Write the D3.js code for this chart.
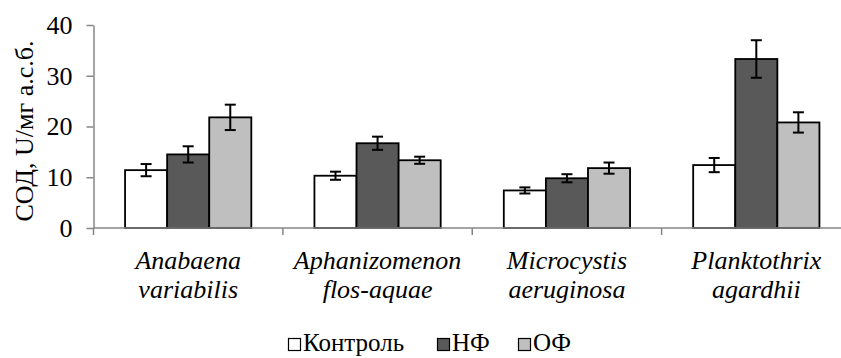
<!DOCTYPE html>
<html>
<head>
<meta charset="utf-8">
<script src="https://cdn.jsdelivr.net/npm/d3@7"></script>
<style>
  html, body { margin: 0; padding: 0; background: #fff; }
  svg { display: block; }
</style>
</head>
<body>
<svg id="chart" width="841" height="358"></svg>
<script>
// Species (two-line italic labels)
const categories = ["Anabaena variabilis", "Aphanizomenon flos-aquae", "Microcystis aeruginosa", "Planktothrix agardhii"];
const categoryLines = [["Anabaena", "variabilis"], ["Aphanizomenon", "flos-aquae"], ["Microcystis", "aeruginosa"], ["Planktothrix", "agardhii"]];
const seriesNames = ["Контроль", "НФ", "ОФ"];
const seriesColors = ["#ffffff", "#595959", "#bfbfbf"];
// SOD activity, U/mg dry weight
const control = [11.4, 10.3, 7.4, 12.4];
const nf = [14.5, 16.7, 9.8, 33.3];
const of = [21.8, 13.35, 11.8, 20.8];
// error bar half-widths
const controlErr = [1.2, 0.8, 0.6, 1.4];
const nfErr = [1.6, 1.3, 0.8, 3.7];
const ofErr = [2.5, 0.7, 1.1, 2.0];
const yTicks = [0, 10, 20, 30, 40];

const values = [control, nf, of];
const errors = [controlErr, nfErr, ofErr];

const FONT = "'Liberation Serif', 'Times New Roman', Times, serif";

const svg = d3.select("#chart");
const plotLeft = 93.5, plotRight = 851, plotTop = 25, plotBottom = 228;

const x = d3.scaleBand().domain(categories).range([plotLeft, plotRight]).paddingInner(0).paddingOuter(0);
const inner = d3.scaleBand().domain(seriesNames).range([0, x.bandwidth()]).paddingInner(0).paddingOuter(0.75);
const y = d3.scaleLinear().domain([0, 40]).range([plotBottom, plotTop]);

const axisColor = "#868686";

// y axis
const yAxis = svg.append("g")
  .attr("transform", `translate(${plotLeft},0)`)
  .call(d3.axisLeft(y).tickValues(yTicks).tickSize(7).tickPadding(14).tickSizeOuter(0));
yAxis.select(".domain").attr("stroke", axisColor).attr("stroke-width", 1.5);
yAxis.selectAll(".tick line").attr("stroke", axisColor).attr("stroke-width", 1.5);
yAxis.selectAll(".tick text")
  .style("font-family", FONT)
  .style("font-size", "26px")
  .attr("fill", "#000");

// bars
const groups = svg.append("g").selectAll("g")
  .data(categories)
  .join("g")
  .attr("transform", d => `translate(${x(d)},0)`);

seriesNames.forEach((s, si) => {
  groups.append("rect")
    .attr("x", inner(s))
    .attr("width", inner.bandwidth())
    .attr("y", (d, i) => y(values[si][i]))
    .attr("height", (d, i) => y(0) - y(values[si][i]))
    .attr("fill", seriesColors[si])
    .attr("stroke", "#000")
    .attr("stroke-width", 1.8);
});

// x axis line with tick marks between categories
svg.append("line")
  .attr("x1", plotLeft).attr("x2", plotRight)
  .attr("y1", y(0)).attr("y2", y(0))
  .attr("stroke", axisColor).attr("stroke-width", 1.5);
const boundaries = categories.map(c => x(c)).concat([x(categories[categories.length - 1]) + x.bandwidth()]);
svg.append("g").selectAll("line")
  .data(boundaries)
  .join("line")
  .attr("x1", d => d).attr("x2", d => d)
  .attr("y1", y(0)).attr("y2", y(0) + 7)
  .attr("stroke", axisColor).attr("stroke-width", 1.5);

// error bars
seriesNames.forEach((s, si) => {
  const eb = groups.append("g");
  const cx = inner(s) + inner.bandwidth() / 2;
  eb.append("line")
    .attr("x1", cx).attr("x2", cx)
    .attr("y1", (d, i) => y(values[si][i] + errors[si][i]))
    .attr("y2", (d, i) => y(values[si][i] - errors[si][i]))
    .attr("stroke", "#000").attr("stroke-width", 2);
  [1, -1].forEach(sign => {
    eb.append("line")
      .attr("x1", cx - 5.5).attr("x2", cx + 5.5)
      .attr("y1", (d, i) => y(values[si][i] + sign * errors[si][i]))
      .attr("y2", (d, i) => y(values[si][i] + sign * errors[si][i]))
      .attr("stroke", "#000").attr("stroke-width", 2);
  });
});

// category labels
const labels = svg.append("g").selectAll("text")
  .data(categories)
  .join("text")
  .attr("text-anchor", "middle")
  .style("font-family", FONT)
  .style("font-style", "italic")
  .style("font-size", "26px");
labels.each(function(d, i) {
  const cx = x(d) + x.bandwidth() / 2;
  categoryLines[i].forEach((ln, li) => {
    d3.select(this).append("tspan")
      .attr("x", cx)
      .attr("y", 269 + li * 29)
      .text(ln);
  });
});

// y axis title
svg.append("text")
  .attr("transform", "translate(33,131) rotate(-90)")
  .attr("text-anchor", "middle")
  .style("font-family", FONT)
  .style("font-size", "26px")
  .text("СОД, U/мг а.с.б.");

// legend
const legendItems = [
  { name: seriesNames[0], color: seriesColors[0], x: 288 },
  { name: seriesNames[1], color: seriesColors[1], x: 437 },
  { name: seriesNames[2], color: seriesColors[2], x: 518 }
];
const legend = svg.append("g").selectAll("g")
  .data(legendItems)
  .join("g")
  .attr("transform", d => `translate(${d.x},0)`);
legend.append("rect")
  .attr("x", 0.5).attr("y", 338.5)
  .attr("width", 12).attr("height", 12)
  .attr("fill", d => d.color)
  .attr("stroke", "#000").attr("stroke-width", 1.2);
legend.append("text")
  .attr("x", 15).attr("y", 351)
  .style("font-family", FONT)
  .style("font-size", "25px")
  .text(d => d.name);
</script>
</body>
</html>
